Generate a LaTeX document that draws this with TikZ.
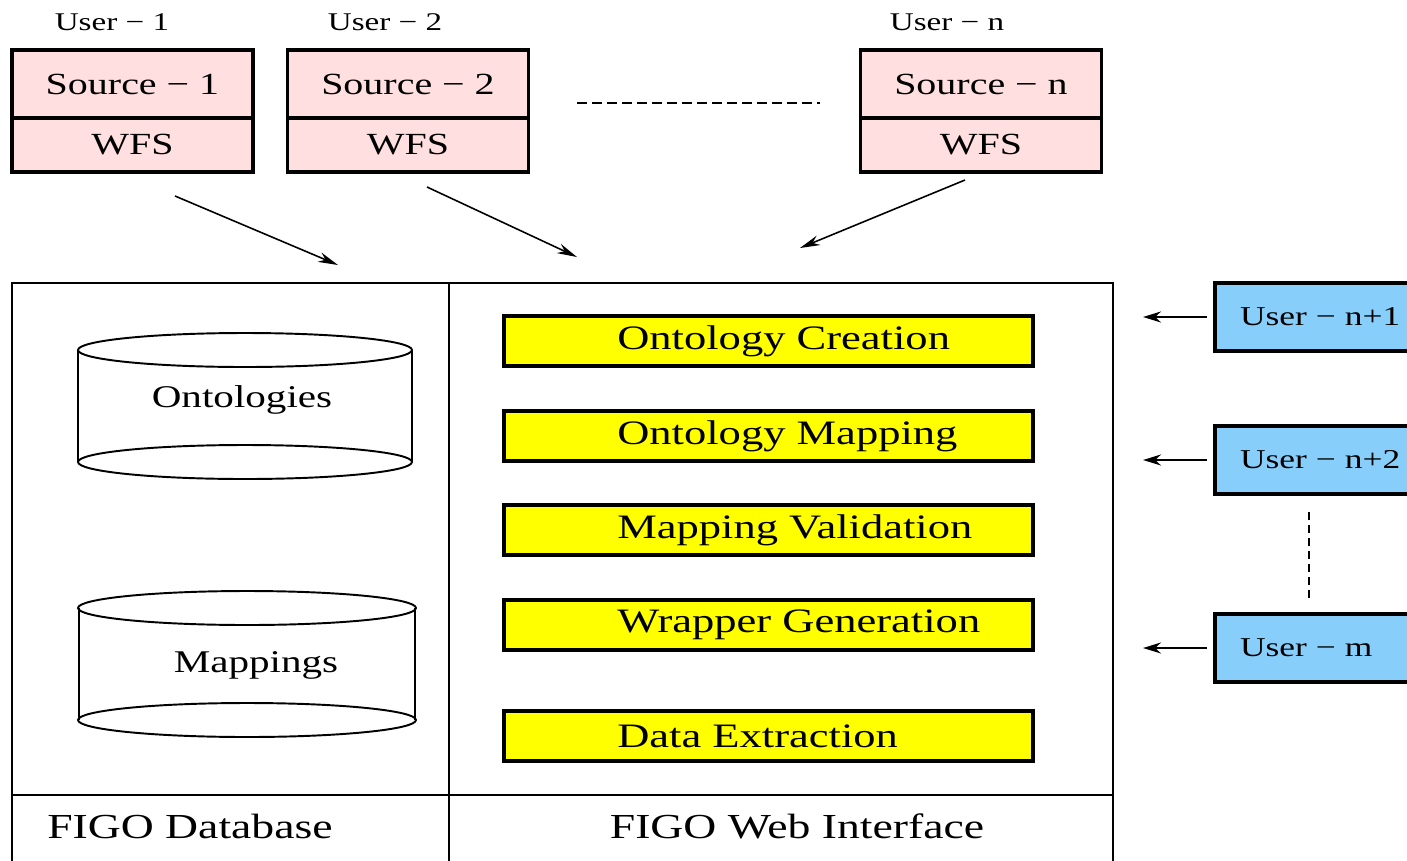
\documentclass[tikz,border=0pt]{standalone}
\usepackage{fontspec}
\setmainfont[FakeStretch=1.3]{Liberation Serif}
\usetikzlibrary{positioning,arrows.meta}
\definecolor{srcpink}{RGB}{255,223,223}
\definecolor{userblue}{RGB}{135,206,250}
\definecolor{taskyellow}{RGB}{255,255,0}
\newcommand{\lft}[1]{\makebox[6.05cm][l]{#1}}
\tikzset{
  src/.style={draw,fill=srcpink,line width=2pt,minimum width=4.82cm,minimum height=1.36cm,
    inner sep=0pt,outer sep=0pt,font=\fontsize{17.5}{20}\selectfont},
  wfs/.style={src,minimum height=1.08cm},
  usr/.style={font=\fontsize{14.5}{17}\selectfont},
  panel/.style={draw,line width=1.5pt,inner sep=0pt,outer sep=0pt},
  task/.style={draw,fill=taskyellow,line width=2pt,minimum width=10.58cm,minimum height=1cm,
    inner sep=0pt,outer sep=0pt,font=\fontsize{19.5}{22}\selectfont},
  ublk/.style={draw,fill=userblue,line width=2pt,anchor=west,minimum height=1.36cm,text width=3.6cm,
    align=left,inner xsep=0.5cm,inner ysep=0pt,outer sep=0pt,font=\fontsize{15.5}{18}\selectfont},
  lbl/.style={font=\fontsize{20}{24}\selectfont},
  db/.style={line width=1.1pt},
  arr/.style={line width=0.9pt,-{Stealth[length=0.4cm,width=0.2cm]}},
  uarr/.style={line width=1.3pt,-{Stealth[length=0.36cm,width=0.22cm]},shorten <=0.16cm}
}
\begin{document}
\begin{tikzpicture}[x=0.02cm,y=-0.02cm]
  \useasboundingbox (0,0) rectangle (1407,860);
  % sources
  \node[usr] (u1lbl) at (112,22) {User − 1};
  \node[usr] (u2lbl) at (385,22) {User − 2};
  \node[usr] (unlbl) at (947,22) {User − n};
  \node[src] (s1) at (132.5,84) {Source − 1};
  \node[wfs,below=0pt of s1] (w1) {WFS};
  \node[src] (s2) at (408,84) {Source − 2};
  \node[wfs,below=0pt of s2] (w2) {WFS};
  \node[src] (sn) at (981,84) {Source − n};
  \node[wfs,below=0pt of sn] (wn) {WFS};
  \draw[line width=1.4pt,dash pattern=on 0.2cm off 0.1cm] (577,103) -- (820,103);

  \coordinate (t1) at (175,196); \coordinate (h1) at (338,265);
  \coordinate (t2) at (427,187); \coordinate (h2) at (577,257);
  \coordinate (tn) at (965,180); \coordinate (hn) at (800,248);
  \draw[arr] (t1) -- (h1);
  \draw[arr] (t2) -- (h2);
  \draw[arr] (tn) -- (hn);

  % FIGO frame
  \node[panel,minimum width=8.74cm,minimum height=10.24cm] (dbp) at (230.5,539) {};
  \node[panel,minimum width=13.28cm,minimum height=10.24cm] (webp) at (781,539) {};
  \node[panel,minimum width=8.74cm,minimum height=1.5cm] (dbc) at (230.5,832.5) {};
  \node[panel,minimum width=13.28cm,minimum height=1.5cm] (webc) at (781,832.5) {};
  \node[lbl] (dbl) at (190,826) {FIGO Database};
  \node[lbl] (webl) at (797,826) {FIGO Web Interface};

  % database cylinders
  \draw[db] (245,350) ellipse [x radius=3.34cm,y radius=0.34cm];
  \draw[db] (245,462) ellipse [x radius=3.34cm,y radius=0.34cm];
  \draw[db] (78,350) -- (78,462) (412,350) -- (412,462);
  \node[lbl,font=\fontsize{18}{21}\selectfont] (ont) at (242,400) {Ontologies};
  \draw[db] (247,608) ellipse [x radius=3.38cm,y radius=0.34cm];
  \draw[db] (247,720) ellipse [x radius=3.38cm,y radius=0.34cm];
  \draw[db] (79,608) -- (79,720) (415,608) -- (415,720);
  \node[lbl,font=\fontsize{18}{21}\selectfont] (map) at (256,665) {Mappings};

  % tasks
  \node[task] (oc) at (768.5,341) {\lft{Ontology Creation}};
  \node[task] (om) at (768.5,436) {\lft{Ontology Mapping}};
  \node[task] (mv) at (768.5,530) {\lft{Mapping Validation}};
  \node[task] (wg) at (768.5,625) {\lft{Wrapper Generation}};
  \node[task] (de) at (768.5,736) {\lft{Data Extraction}};

  % web users
  \node[ublk] (u1) at (1215,317) {User − n+1};
  \node[ublk] (u2) at (1215,460) {User − n+2};
  \node[ublk] (um) at (1215,648) {User − m};
  \coordinate (e1) at (1143,317);
  \coordinate (e2) at (1143,460);
  \coordinate (em) at (1143,648);
  \draw[uarr] (u1.west) -- (e1);
  \draw[uarr] (u2.west) -- (e2);
  \draw[uarr] (um.west) -- (em);
  \draw[line width=1.4pt,dash pattern=on 0.16cm off 0.1cm] (1309,512) -- (1309,602);
\end{tikzpicture}
\end{document}
